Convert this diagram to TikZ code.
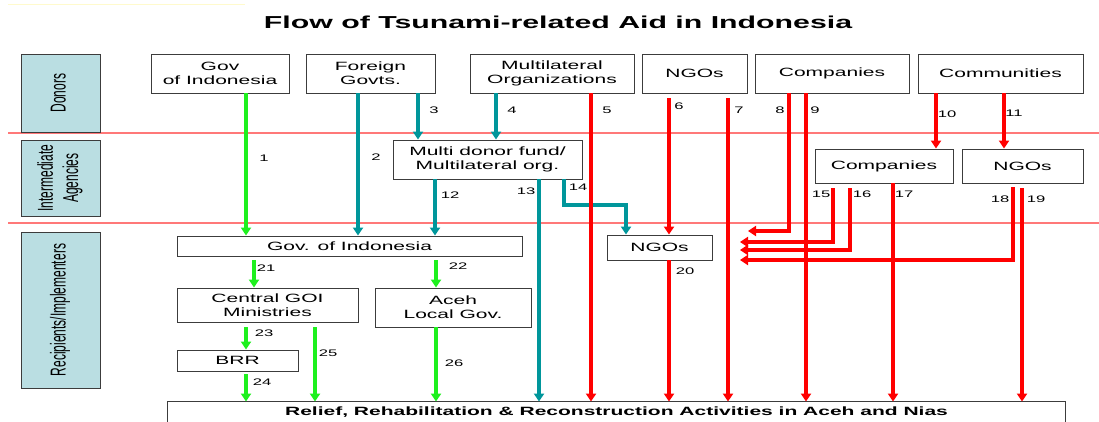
\documentclass[tikz,border=0pt]{standalone}
\usepackage{graphicx}
\usepackage{fontspec}
\setmainfont{Liberation Sans}[FakeStretch=1.75]
\newfontfamily\sidefont{Liberation Sans}
\usetikzlibrary{arrows.meta,calc}
\definecolor{gr}{RGB}{30,240,30}
\definecolor{tl}{RGB}{0,150,155}
\definecolor{rd}{RGB}{255,0,0}
\definecolor{sep}{RGB}{255,120,120}
\definecolor{side}{RGB}{186,222,226}
\definecolor{bord}{RGB}{60,60,60}
\definecolor{pale}{RGB}{255,250,205}
\tikzset{
  box/.style={draw=bord, line width=0.9pt, fill=white, inner sep=0pt, align=center, font=\fontsize{12}{14}\selectfont},
  sidebox/.style={draw=bord, line width=0.9pt, fill=side, inner sep=0pt},
  flow/.style={line width=3.3pt, -{Triangle[width=10pt,length=8pt]}},
  gflow/.style={flow, draw=gr},
  tflow/.style={flow, draw=tl},
  rflow/.style={flow, draw=rd},
  lbl/.style={font=\fontsize{9.5}{11}\selectfont, inner sep=0pt},
  sepline/.style={draw=sep, line width=1.3pt},
}
\newcommand{\sidetext}[1]{\rotatebox{90}{\scalebox{1}[1.8]{\sidefont\fontsize{12}{14}\selectfont\begin{tabular}{@{}c@{}}#1\end{tabular}}}}
\begin{document}
\begin{tikzpicture}[x=1pt,y=-1pt]
\useasboundingbox (0,0) rectangle (1099,421);
\fill[white] (0,0) rectangle (1099,421);
\draw[pale, line width=1pt] (8,4) -- (245,4);

% title
\node[font=\fontsize{17.3}{20}\selectfont\bfseries] (title) at (558,22) {Flow of Tsunami-related Aid in Indonesia};

% separators
\draw[sepline] (8,133) -- (1099,133);
\draw[sepline] (8,223) -- (1099,223);

% side boxes
\node[sidebox, minimum width=79pt, minimum height=78pt] (sdon) at (60.5,93) {\sidetext{Donors}};
\node[sidebox, minimum width=79pt, minimum height=76pt] (sint) at (60.5,178) {\sidetext{Intermediate\\Agencies}};
\node[sidebox, minimum width=79pt, minimum height=156pt] (srec) at (60.5,310) {\sidetext{Recipients/Implementers}};

% donors
\node[box, minimum width=138pt, minimum height=39pt] (gov) at (220,73.5) {Gov\\of Indonesia};
\node[box, minimum width=129pt, minimum height=39pt] (fgov) at (370.5,73.5) {Foreign\\Govts.};
\node[box, minimum width=164pt, minimum height=39pt] (multi) at (552,73.5) {Multilateral\\Organizations};
\node[box, minimum width=105pt, minimum height=39pt] (ngo1) at (694.5,73.5) {NGOs};
\node[box, minimum width=154pt, minimum height=39pt] (comp1) at (832,73.5) {Companies};
\node[box, minimum width=165pt, minimum height=39pt] (comm) at (1000.5,73.5) {Communities};

% intermediate
\node[box, minimum width=189pt, minimum height=39pt] (mdf) at (487.5,159.5) {Multi donor fund/\\Multilateral org.};
\node[box, minimum width=138pt, minimum height=34pt] (comp2) at (884,166) {Companies};
\node[box, minimum width=121pt, minimum height=34pt] (ngo2) at (1022.5,166) {NGOs};

% recipients
\node[box, minimum width=345pt, minimum height=20pt] (gov2) at (349.5,246) {Gov. of Indonesia};
\node[box, minimum width=105pt, minimum height=25pt] (ngo3) at (659.5,247.5) {NGOs};
\node[box, minimum width=181pt, minimum height=34pt] (cgoi) at (267.5,305) {Central GOI\\Ministries};
\node[box, minimum width=156pt, minimum height=39pt] (aceh) at (453,307.5) {Aceh\\Local Gov.};
\node[box, minimum width=121pt, minimum height=21pt] (brr) at (237.5,360.5) {BRR};
\node[box, draw=none, minimum width=897pt, minimum height=20pt, font=\fontsize{12}{14}\selectfont\bfseries] (relief) at (616.5,412) {Relief, Rehabilitation \& Reconstruction Activities in Aceh and Nias};
\draw[bord, line width=0.9pt] (relief.south west) |- (relief.north east) -- (relief.south east);

% columns
\coordinate (x1) at (246,0);
\coordinate (x2) at (358,0);
\coordinate (x3) at (418,0);
\coordinate (x4) at (496,0);
\coordinate (x5) at (591,0);
\coordinate (x6) at (669,0);
\coordinate (x7) at (728,0);
\coordinate (x8) at (789,0);
\coordinate (x9) at (806,0);
\coordinate (x10) at (936,0);
\coordinate (x11) at (1004,0);
\coordinate (x12) at (435,0);
\coordinate (x13) at (539,0);
\coordinate (x14) at (564,0);
\coordinate (x15) at (833,0);
\coordinate (x16) at (850,0);
\coordinate (x17) at (893,0);
\coordinate (x18) at (1013,0);
\coordinate (x19) at (1022,0);
\coordinate (x21) at (254,0);
\coordinate (x22) at (436,0);
\coordinate (x25) at (315,0);
\coordinate (k14) at (626,205);
\coordinate (e8) at (748,231);
\coordinate (e15) at (740,242);
\coordinate (e16) at (740,250);
\coordinate (e18) at (740,260);

% horizontal-ending red flows first
\draw[rflow] (comp1.south -| x8) |- (e8);
\draw[rflow] ($(comp2.south -| x15)+(0,5)$) |- (e15);
\draw[rflow] ($(comp2.south -| x16)+(0,5)$) |- (e16);
\draw[rflow] ($(ngo2.south -| x18)+(0,4)$) |- (e18);

% green flows
\draw[gflow] (gov.south -| x1) -- (gov2.north -| x1);
\draw[gflow] ($(gov2.south -| x21)+(0,4)$) -- (cgoi.north -| x21);
\draw[gflow] ($(gov2.south -| x22)+(0,4)$) -- (aceh.north -| x22);
\draw[gflow] ($(cgoi.south -| x1)+(0,5)$) -- (brr.north -| x1);
\draw[gflow] ($(brr.south -| x1)+(0,3)$) -- (relief.north -| x1);
\draw[gflow] ($(cgoi.south -| x25)+(0,5)$) -- (relief.north -| x25);
\draw[gflow] (aceh.south -| x22) -- (relief.north -| x22);

% teal flows
\draw[tflow] (fgov.south -| x2) -- (gov2.north -| x2);
\draw[tflow] (fgov.south -| x3) -- (mdf.north -| x3);
\draw[tflow] (multi.south -| x4) -- (mdf.north -| x4);
\draw[tflow] (mdf.south -| x12) -- (gov2.north -| x12);
\draw[tflow] (mdf.south -| x13) -- (relief.north -| x13);
\draw[tflow] (mdf.south -| x14) |- (k14) -- (ngo3.north -| k14);

% red vertical flows
\draw[rflow] (multi.south -| x5) -- (relief.north -| x5);
\draw[rflow] ($(ngo1.south -| x6)+(0,5)$) -- (ngo3.north -| x6);
\draw[rflow] ($(ngo1.south -| x7)+(0,5)$) -- (relief.north -| x7);
\draw[rflow] (comp1.south -| x9) -- (relief.north -| x9);
\draw[rflow] (comm.south -| x10) -- (comp2.north -| x10);
\draw[rflow] (comm.south -| x11) -- (ngo2.north -| x11);
\draw[rflow] (comp2.south -| x17) -- (relief.north -| x17);
\draw[rflow] ($(ngo2.south -| x19)+(0,5)$) -- (relief.north -| x19);
\draw[rflow] (ngo3.south -| x6) -- (relief.north -| x6);

% labels
\node[lbl] (l1) at (264,158) {1};
\node[lbl] (l2) at (376,157) {2};
\node[lbl] (l3) at (434,110) {3};
\node[lbl] (l4) at (512,110) {4};
\node[lbl] (l5) at (607,110) {5};
\node[lbl] (l6) at (679,106) {6};
\node[lbl] (l7) at (739,110) {7};
\node[lbl] (l8) at (780,110) {8};
\node[lbl] (l9) at (815,110) {9};
\node[lbl] (l10) at (947,114) {10};
\node[lbl] (l11) at (1014,113) {11};
\node[lbl] (l12) at (450,195) {12};
\node[lbl] (l13) at (526,191) {13};
\node[lbl] (l14) at (578,187) {14};
\node[lbl] (l15) at (821,194) {15};
\node[lbl] (l16) at (862,194) {16};
\node[lbl] (l17) at (904,194) {17};
\node[lbl] (l18) at (1000,199) {18};
\node[lbl] (l19) at (1036,199) {19};
\node[lbl] (l20) at (685,271) {20};
\node[lbl] (l21) at (266,268) {21};
\node[lbl] (l22) at (458,266) {22};
\node[lbl] (l23) at (264,333) {23};
\node[lbl] (l24) at (262,382) {24};
\node[lbl] (l25) at (328,353) {25};
\node[lbl] (l26) at (454,363) {26};
\end{tikzpicture}
\end{document}
